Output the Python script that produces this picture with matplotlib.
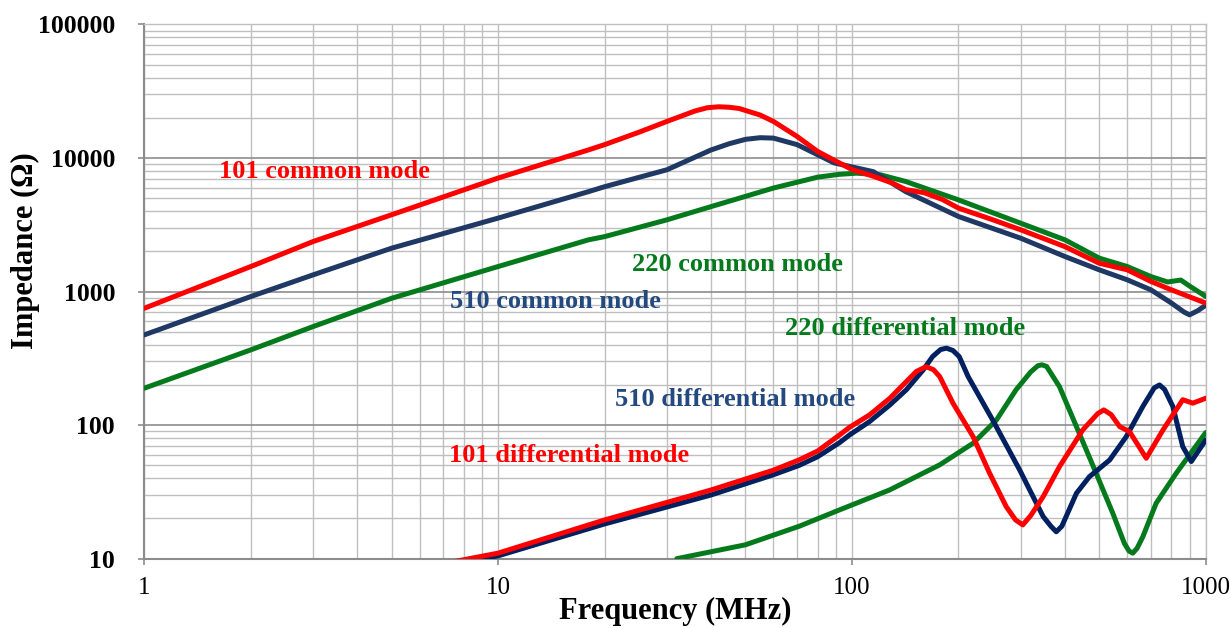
import matplotlib
matplotlib.use("Agg")
import matplotlib.pyplot as plt
from matplotlib.ticker import LogLocator, FixedLocator, NullFormatter

plt.rcParams['font.family'] = ['Liberation Serif', 'DejaVu Serif']

# ---------------- data ----------------
f_101_cm = [1, 2, 3, 5, 10, 18, 20, 25, 30, 36, 39, 42, 45, 48, 55, 60, 70, 80, 100, 115, 130, 142, 160, 180, 200, 250, 300, 400, 500, 600, 700, 800, 1000]
z_101_cm = [750, 1540, 2370, 3760, 7080, 11500, 12600, 15600, 18800, 22500, 23800, 24200, 24000, 23500, 21000, 18800, 14500, 11200, 8200, 7300, 6500, 5800, 5500, 4900, 4220, 3450, 2900, 2170, 1630, 1455, 1190, 1030, 820]

f_510_cm = [1, 2, 3, 5, 10, 18, 20, 30, 40, 45, 50, 55, 60, 70, 89, 115, 142, 200, 300, 400, 500, 600, 700, 800, 870, 900, 950, 1000]
z_510_cm = [474, 918, 1334, 2113, 3550, 5600, 6100, 8170, 11500, 12800, 13800, 14200, 14100, 12600, 9200, 7900, 5600, 3650, 2510, 1830, 1455, 1225, 1030, 820, 700, 670, 720, 790]

f_220_cm = [1, 2, 3, 5, 10, 18, 20, 30, 40, 60, 80, 92, 103, 120, 142, 200, 300, 400, 500, 600, 700, 780, 850, 900, 1000]
z_220_cm = [189, 366, 547, 891, 1540, 2440, 2580, 3445, 4330, 5960, 7190, 7550, 7700, 7500, 6670, 4860, 3250, 2440, 1780, 1540, 1295, 1180, 1220, 1100, 920]

f_101_dm = [7.5, 10, 20, 40, 60, 71, 80, 92.3, 98.5, 112, 128, 142.5, 152, 162, 170, 177, 193, 220, 245, 273, 290, 304, 320, 347, 386, 449, 495, 515, 540, 571, 609, 679, 757, 861, 919, 1000]
z_101_dm = [9.5, 11, 19.5, 32.7, 46, 55, 64, 84.5, 96.4, 119, 159, 212, 252, 274, 260, 231, 146, 82, 43.6, 24.5, 19.5, 17.9, 21, 29.1, 48.9, 92, 122, 130, 120, 97.5, 89.3, 56.5, 92, 155, 146, 159]

f_510_dm = [8, 10, 20, 40, 60, 71, 80, 92.3, 98.5, 112, 128, 142.5, 159, 169, 178, 185, 193, 201, 213, 250, 298, 318, 347, 365, 378, 392, 431, 469, 535, 596, 664, 715, 740, 765, 807, 861, 910, 1000]
z_510_dm = [9.5, 10.5, 18.2, 30, 42.5, 50, 58, 74, 84.5, 106, 141.6, 184, 259, 326, 368, 377, 362, 326, 231, 109, 46.1, 32.7, 20.7, 17.5, 15.9, 17.5, 30.9, 41.1, 54.8, 82, 138, 190, 200, 185, 138, 69, 53.4, 77.4]

f_220_dm = [32, 50, 71, 92.3, 127.8, 177, 220, 256, 291, 320, 335, 344, 355, 386, 431, 490, 546, 589, 607, 622, 640, 664, 724, 825, 1000]
z_220_dm = [10, 12.7, 17.5, 23.2, 32.7, 50.4, 73.2, 109, 184, 250, 278, 283, 275, 194, 97.5, 43.6, 21.9, 13.0, 11.4, 11.0, 12.0, 14.6, 26, 43.6, 88]

x_ticks = [1, 10, 100, 1000]
x_tick_labels = ['1', '10', '100', '1000']
y_ticks = [10, 100, 1000, 10000, 100000]
y_tick_labels = ['10', '100', '1000', '10000', '100000']

labels = ['101 common mode', '510 common mode', '220 common mode',
          '220 differential mode', '510 differential mode', '101 differential mode']
label_x = [3.24, 14.5, 47.5, 141, 46.6, 15.9]
label_y = [7890, 837, 1585, 525, 155, 58.8]

# ---------------- style ----------------
RED = '#FF0000'
NAVY_CM = '#1F3864'
NAVY_DM = '#002060'
GREEN = '#047A1C'
NAVY_TXT = '#23497F'
label_colors = [RED, NAVY_TXT, GREEN, GREEN, NAVY_TXT, RED]

fig = plt.figure(figsize=(12.31, 6.28), dpi=100)
ax = fig.add_axes([0.1172, 0.1104, 0.8623, 0.8506])
ax.set_xscale('log')
ax.set_yscale('log')
ax.set_xlim(1, 1000)
ax.set_ylim(10, 100000)

lw = 3.6
kw = dict(lw=lw, solid_capstyle='round', solid_joinstyle='round')
ax.plot(f_220_cm, z_220_cm, color=GREEN, zorder=3, **kw)
ax.plot(f_510_cm, z_510_cm, color=NAVY_CM, zorder=3, **kw)
ax.plot(f_101_cm, z_101_cm, color=RED, zorder=4, **kw)
ax.plot(f_220_dm, z_220_dm, color=GREEN, zorder=3, **kw)
ax.plot(f_510_dm, z_510_dm, color=NAVY_DM, zorder=3, **kw)
ax.plot(f_101_dm, z_101_dm, color=RED, zorder=4, **kw)

for t, x, y, c in zip(labels, label_x, label_y, label_colors):
    ax.text(x, y, t, color=c, fontsize=19, fontweight='bold', ha='center', va='center', zorder=5)

ax.xaxis.set_major_locator(FixedLocator(x_ticks))
ax.yaxis.set_major_locator(FixedLocator(y_ticks))
ax.set_xticklabels(x_tick_labels)
ax.set_yticklabels(y_tick_labels)
ax.xaxis.set_minor_locator(LogLocator(base=10, subs=range(2, 10)))
ax.yaxis.set_minor_locator(LogLocator(base=10, subs=range(2, 10)))
ax.xaxis.set_minor_formatter(NullFormatter())
ax.yaxis.set_minor_formatter(NullFormatter())

ax.grid(True, which='minor', color='#BFBFBF', lw=1.0, zorder=0)
ax.grid(True, which='major', axis='x', color='#BFBFBF', lw=1.0, zorder=0)
ax.grid(True, which='major', axis='y', color='#8C8C8C', lw=1.2, zorder=0)
ax.set_axisbelow(True)

for s in ['top', 'right']:
    ax.spines[s].set_color('#BFBFBF')
    ax.spines[s].set_linewidth(1.0)
for s in ['left', 'bottom']:
    ax.spines[s].set_color('#8C8C8C')
    ax.spines[s].set_linewidth(1.5)

ax.tick_params(axis='both', which='major', length=4, color='#8C8C8C', width=1.2)
ax.tick_params(axis='both', which='minor', length=0)
ax.tick_params(axis='x', which='major', labelsize=18, pad=9)
ax.tick_params(axis='y', which='major', labelsize=18.5, pad=17)
for lab in ax.get_yticklabels():
    lab.set_fontweight('bold')

ax.set_xlabel('Frequency (MHz)', fontsize=22, fontweight='bold')
ax.set_ylabel('Impedance (Ω)', fontsize=22, fontweight='bold')
ax.xaxis.set_label_coords(0.5, -0.072)
ax.yaxis.set_label_coords(-0.098, 0.576)

fig.savefig('out.png', dpi=100)
